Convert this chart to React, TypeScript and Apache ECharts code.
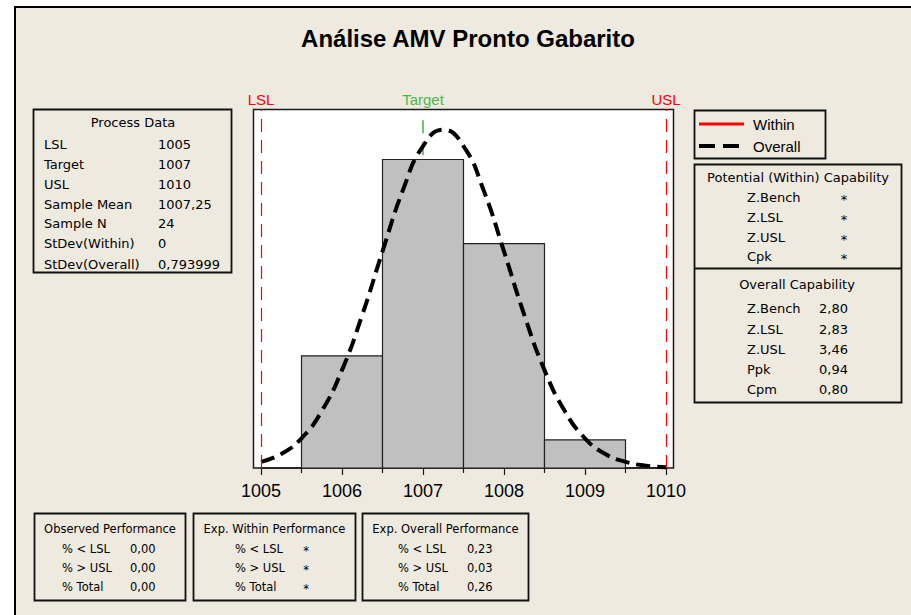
import React, { useEffect, useRef } from "react";
import * as echarts from "echarts";

const TITLE = "Análise AMV Pronto Gabarito";
const LSL = 1005;
const TARGET = 1007;
const USL = 1010;
const Y_MAX = 12.8;
const TARGET_LINE_TOP = 12.4;

const binCenters = [1006, 1007, 1008, 1009];
const binCounts = [4, 11, 8, 1];

const curveX = [
  1005, 1005.25, 1005.5, 1005.75, 1006, 1006.25, 1006.5, 1006.75, 1007, 1007.25, 1007.5,
  1007.75, 1008, 1008.25, 1008.5, 1008.75, 1009, 1009.25, 1009.5, 1009.75, 1010,
];
const curveY = [
  0.22, 0.5, 1.06, 2.03, 3.49, 5.46, 7.72, 9.89, 11.48, 12.06, 11.48,
  9.89, 7.72, 5.46, 3.49, 2.03, 1.06, 0.5, 0.22, 0.085, 0.03,
];

const processLabels = ["LSL", "Target", "USL", "Sample Mean", "Sample N", "StDev(Within)", "StDev(Overall)"];
const processValues = ["1005", "1007", "1010", "1007,25", "24", "0", "0,793999"];

const withinLabels = ["Z.Bench", "Z.LSL", "Z.USL", "Cpk"];
const withinValues = ["*", "*", "*", "*"];
const overallLabels = ["Z.Bench", "Z.LSL", "Z.USL", "Ppk", "Cpm"];
const overallValues = ["2,80", "2,83", "3,46", "0,94", "0,80"];

const perfLabels = ["% < LSL", "% > USL", "% Total"];
const observedValues = ["0,00", "0,00", "0,00"];
const expWithinValues = ["*", "*", "*"];
const expOverallValues = ["0,23", "0,03", "0,26"];

const BOX_FONT = '13px "DejaVu Sans"';
const SMALL_FONT = '11.5px "DejaVu Sans"';
const BG = "#eeeae0";
const GREEN = "#4cb84c";

function txt(text: string, x: number, y: number, align = "left", font = BOX_FONT, fill = "#000") {
  return {
    type: "text",
    x,
    y,
    silent: true,
    style: { text, font, fill, textAlign: align, align, textVerticalAlign: "middle", verticalAlign: "middle" },
  };
}
function box(x: number, y: number, w: number, h: number) {
  return {
    type: "rect",
    silent: true,
    shape: { x, y, width: w, height: h },
    style: { fill: "none", stroke: "#111", lineWidth: 1.8 },
  };
}
function hline(x1: number, x2: number, y: number, color: string, width: number, dash?: number[]) {
  return {
    type: "line",
    silent: true,
    shape: { x1, y1: y, x2, y2: y },
    style: { stroke: color, lineWidth: width, lineDash: dash },
  };
}

export default function App() {
  const ref = useRef<HTMLDivElement>(null);
  useEffect(() => {
    if (!ref.current) return;
    const chart = echarts.init(ref.current, undefined, { renderer: "svg" });

    const g: any[] = [];
    g.push({
      type: "rect",
      silent: true,
      shape: { x: 15, y: 7, width: 930, height: 640 },
      style: { fill: BG, stroke: "#000", lineWidth: 2 },
    });
    g.push({
      type: "rect",
      silent: true,
      shape: { x: 253.5, y: 109.5, width: 420, height: 358.5 },
      style: { fill: "#fff", stroke: "#1a1a1a", lineWidth: 1.5 },
    });
    g.push(txt(TITLE, 468, 38, "center", 'bold 24px "Liberation Sans"'));

    // Process data
    g.push(box(33.5, 109.5, 198, 163));
    g.push(txt("Process Data", 133, 122, "center"));
    const pRows = [144, 164, 184, 204, 223, 243, 264];
    processLabels.forEach((l, i) => {
      g.push(txt(l, 44, pRows[i]));
      g.push(txt(processValues[i], 158, pRows[i]));
    });

    // legend
    g.push(box(694.5, 110.5, 131, 48));
    g.push(hline(699, 744, 124, "#ff0000", 3));
    g.push(hline(699, 744, 146, "#000", 4, [16, 8]));
    g.push(txt("Within", 753, 124, "left", '15px "Liberation Sans"'));
    g.push(txt("Overall", 753, 146, "left", '15px "Liberation Sans"'));

    // capability
    g.push(box(694.5, 164.5, 207, 238));
    g.push(hline(694.5, 901.5, 268.5, "#111", 1.8));
    g.push(txt("Potential (Within) Capability", 798, 177, "center"));
    const wRows = [197, 217, 237, 256];
    withinLabels.forEach((l, i) => {
      g.push(txt(l, 747, wRows[i]));
      g.push(txt(withinValues[i], 844, wRows[i] + 2, "center"));
    });
    g.push(txt("Overall Capability", 797, 284, "center"));
    const oRows = [308, 329, 349, 369, 389];
    overallLabels.forEach((l, i) => {
      g.push(txt(l, 747, oRows[i]));
      g.push(txt(overallValues[i], 819, oRows[i]));
    });

    // bottom boxes
    const bRows = [549, 568, 587];
    const bottom = [
      { x: 34.5, w: 151, title: "Observed Performance", lx: 62, vx: 130, vals: observedValues, star: false },
      { x: 193.5, w: 162, title: "Exp. Within Performance", lx: 235, vx: 306, vals: expWithinValues, star: true },
      { x: 362.5, w: 166, title: "Exp. Overall Performance", lx: 398, vx: 467, vals: expOverallValues, star: false },
    ];
    bottom.forEach((b) => {
      g.push(box(b.x, 513.5, b.w, 87));
      g.push(txt(b.title, b.x + b.w / 2, 529, "center", SMALL_FONT));
      perfLabels.forEach((l, i) => {
        g.push(txt(l, b.lx, bRows[i], "left", SMALL_FONT));
        g.push(txt(b.vals[i], b.vx, bRows[i] + (b.star ? 2 : 0), b.star ? "center" : "left", SMALL_FONT));
      });
    });

    const specLine = (value: number, name: string, color: string, lineColor: string, z: number) => ({
      type: "line",
      data: [],
      z,
      silent: true,
      markLine: {
        silent: true,
        z,
        symbol: "none",
        animation: false,
        lineStyle: { color: lineColor, type: [13, 8], width: 1.2 },
        label: {
          show: true,
          formatter: name,
          position: "end",
          distance: 2,
          color,
          fontSize: 15,
          fontFamily: "Liberation Sans",
        },
        data: [{ xAxis: value }],
      },
    });

    chart.setOption({
      animation: false,
      backgroundColor: "#fff",
      graphic: g,
      grid: { left: 261, width: 405, top: 109, height: 359, containLabel: false },
      xAxis: {
        type: "value",
        min: 1005,
        max: 1010,
        interval: 1,
        axisLine: { show: true, lineStyle: { color: "#1a1a1a", width: 1.5 } },
        axisTick: { show: true, length: 7, lineStyle: { color: "#1a1a1a", width: 1.2 } },
        minorTick: { show: true, splitNumber: 2, length: 5, lineStyle: { color: "#1a1a1a", width: 1.2 } },
        splitLine: { show: false },
        axisLabel: {
          color: "#000",
          fontSize: 18,
          fontFamily: "Liberation Sans",
          margin: 14,
          formatter: (v: number) => String(v),
        },
      },
      yAxis: { type: "value", min: 0, max: Y_MAX, show: false, splitLine: { show: false } },
      series: [
        {
          type: "line",
          z: 1,
          silent: true,
          symbol: "none",
          data: [
            [TARGET, TARGET_LINE_TOP],
            [TARGET, 0],
          ],
          lineStyle: { color: GREEN, width: 1.6, type: [13, 9] },
        },
        specLine(TARGET, "Target", GREEN, "transparent", 1),
        {
          type: "custom",
          z: 2,
          silent: true,
          data: binCenters.map((c, i) => [c, binCounts[i]]),
          encode: { x: 0, y: 1 },
          renderItem: (params: any, api: any) => {
            const x = api.value(0);
            const c = api.value(1);
            const p1 = api.coord([x - 0.5, c]);
            const p2 = api.coord([x + 0.5, 0]);
            return {
              type: "rect",
              shape: { x: p1[0], y: p1[1], width: p2[0] - p1[0], height: p2[1] - p1[1] },
              style: { fill: "#c0c0c0", stroke: "#222", lineWidth: 1.2 },
            };
          },
        },
        {
          type: "line",
          z: 3,
          silent: true,
          smooth: true,
          symbol: "none",
          data: curveX.map((x, i) => [x, curveY[i]]),
          lineStyle: { color: "#000", width: 4, type: [14, 7] },
        },
        specLine(LSL, "LSL", "#ff0000", "#ff0000", 4),
        specLine(USL, "USL", "#ff0000", "#ff0000", 4),
      ],
    });
    return () => chart.dispose();
  }, []);
  return (
    <div
      ref={ref}
      style={{ position: "fixed", left: 0, top: 0, width: 911, height: 615 }}
    />
  );
}
